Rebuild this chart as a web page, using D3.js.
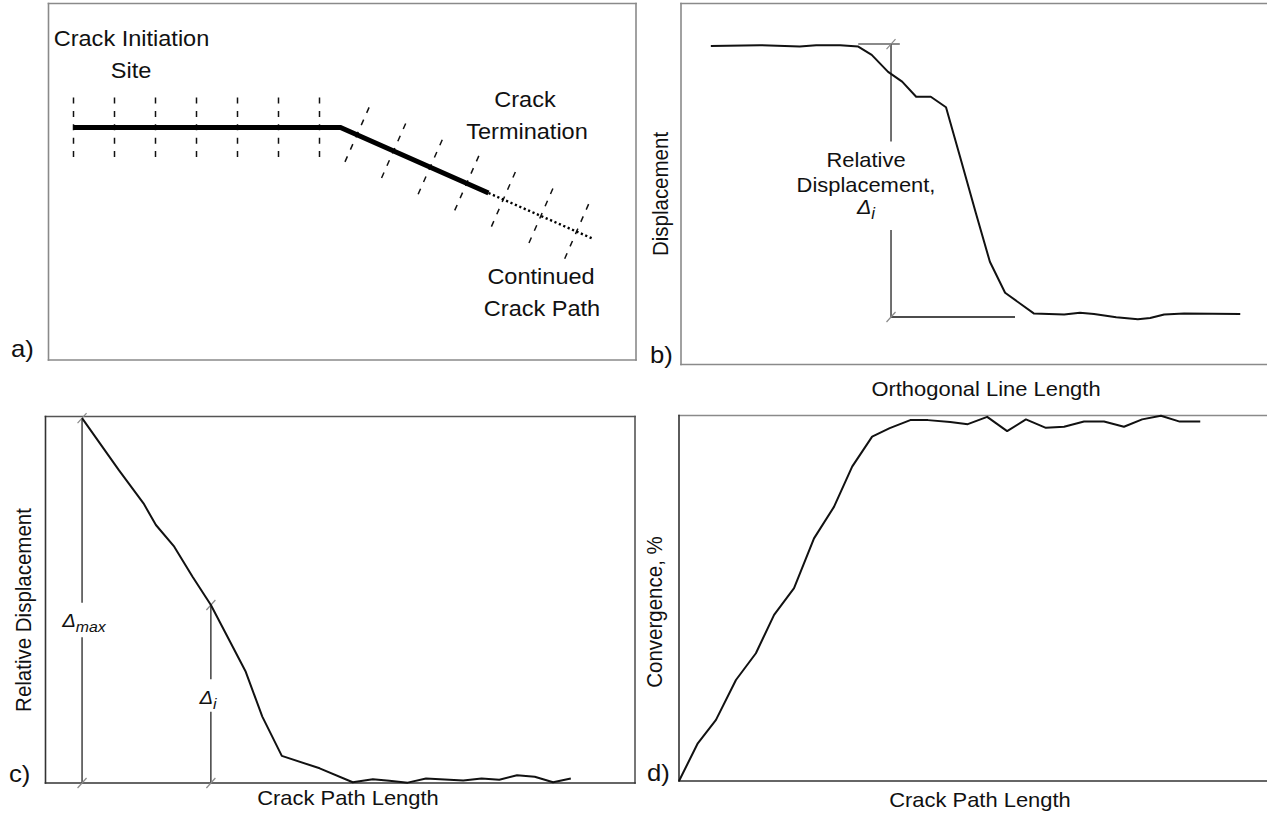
<!DOCTYPE html>
<html><head><meta charset="utf-8">
<script src="https://cdn.jsdelivr.net/npm/d3@7"></script>
<style>
body{margin:0;background:#fff}
svg{display:block}
text{font-family:"Liberation Sans",Arial,sans-serif;fill:#111}
</style>
</head><body>
<svg id="chart" width="1267" height="816"></svg>
<script>
// ---------- Panel a: schematic crack path ----------
const crackPathX = [0, 267, 415, 520];
const crackPathY = [0, 0, 65.5, 111.5];
const solidVertexCount = 3;
const orthoTickDist = [0, 41, 82, 123, 164, 205, 246, 285, 325, 365, 405, 445, 486, 525];
const panelALabels = ["Crack Initiation", "Site", "Crack", "Termination", "Continued", "Crack Path"];

// ---------- Panel b: displacement along orthogonal line ----------
const orthoLength  = [5.1, 13.5, 20.3, 23.1, 27.2, 30.3, 32.6, 35.4, 37.8, 40.2, 42.7, 45.3, 47.7, 50.4, 52.8, 55.4, 60.3, 65.5, 68.2, 70.6, 74.4, 78.1, 80.2, 82.6, 86.0, 95.6];
const displacement = [88.4, 88.6, 88.2, 88.6, 88.6, 88.2, 85.9, 81.2, 78.5, 74.3, 74.3, 71.4, 57.7, 42.1, 28.6, 20.0, 14.3, 14.0, 14.5, 14.1, 13.2, 12.7, 13.0, 14.0, 14.3, 14.1];
const deltaB = [35.9, 88.9, 13.3]; // x, top, bottom

// ---------- Panel c: relative displacement along crack ----------
const crackLengthC = [6.1, 12.3, 16.5, 18.6, 21.7, 24.8, 27.9, 30.4, 33.8, 36.6, 39.9, 46.3, 51.9, 55.3, 58.1, 61.2, 64.3, 70.6, 73.7, 76.7, 79.7, 82.7, 85.8, 88.8];
const relativeDisp = [99.4, 85.3, 76.2, 70.3, 64.4, 56.2, 48.5, 40.8, 30.3, 18.1, 7.4, 4.0, 0.2, 1.0, 0.6, 0.1, 1.2, 0.7, 1.2, 0.9, 2.1, 1.7, 0.2, 1.2];
const deltaMaxC = [6.1, 99.4];
const deltaIC = [27.9, 48.5];

// ---------- Panel d: convergence along crack ----------
const crackLengthD = [0, 3.2, 6.3, 9.7, 13.1, 16.2, 19.6, 23.0, 26.4, 29.5, 32.9, 35.9, 39.4, 42.4, 46.2, 49.2, 52.5, 55.9, 59.1, 62.5, 65.6, 69.0, 72.4, 75.8, 78.9, 82.1, 85.3, 88.8];
const convergence  = [0, 10.3, 16.7, 27.6, 34.9, 45.4, 52.7, 66.3, 74.9, 85.9, 94.1, 96.4, 98.6, 98.6, 98.1, 97.5, 99.5, 95.6, 98.8, 96.5, 96.8, 98.2, 98.2, 96.8, 98.8, 99.8, 98.2, 98.2];

const svg = d3.select("#chart");
const SX = 1.07;   // horizontal text stretch
const INK = "#111";

function txt(g, x, y, s, size, opts = {}) {
  return g.append("text")
    .attr("transform", `translate(${x},${y}) scale(${SX},1)` + (opts.rotate ? " rotate(-90)" : ""))
    .attr("font-size", size)
    .attr("text-anchor", opts.anchor || "middle")
    .text(s);
}
function deltaText(g, x, y, sub, size) {
  const t = g.append("text")
    .attr("transform", `translate(${x},${y}) scale(${SX},1)`)
    .attr("font-size", size).attr("font-style", "italic").attr("text-anchor", "middle");
  t.append("tspan").text("Δ");
  t.append("tspan").attr("font-size", size * 0.78).attr("dy", size * 0.26).text(sub);
}
function box(g, x0, y0, x1, y1, colors) {
  // colors: top, right, bottom, left
  const sides = [[x0, y0, x1, y0], [x1, y0, x1, y1], [x0, y1, x1, y1], [x0, y0, x0, y1]];
  sides.forEach((s, i) => {
    if (!colors[i]) return;
    g.append("line").attr("x1", s[0]).attr("y1", s[1]).attr("x2", s[2]).attr("y2", s[3])
      .attr("stroke", colors[i]).attr("stroke-width", 1.6).attr("stroke-linecap", "square");
  });
}
function slash(g, x, y) {
  g.append("line").attr("x1", x - 4.5).attr("y1", y + 5).attr("x2", x + 4.5).attr("y2", y - 5)
    .attr("stroke", "#8a8a8a").attr("stroke-width", 1.2);
}
function vline(g, x, y0, y1, color, w) {
  g.append("line").attr("x1", x).attr("x2", x).attr("y1", y0).attr("y2", y1)
    .attr("stroke", color || INK).attr("stroke-width", w || 1.2);
}
function hline(g, x0, x1, y, color, w) {
  g.append("line").attr("x1", x0).attr("x2", x1).attr("y1", y).attr("y2", y)
    .attr("stroke", color || INK).attr("stroke-width", w || 1.2);
}

// ================= Panel a =================
{
  const g = svg.append("g");
  const x = d3.scaleLinear().domain([-25, 564]).range([48.5, 637.5]);
  const y = d3.scaleLinear().domain([-123.5, 232.5]).range([4, 360]);
  box(g, 48.5, 3.5, 636, 360, ["#8a8a8a", "#8a8a8a", "#8a8a8a", "#8a8a8a"]);

  const pts = crackPathX.map((v, i) => [v, crackPathY[i]]);
  const line = d3.line().x(d => x(d[0])).y(d => y(d[1]));

  // orthogonal dashed lines
  const segs = [];
  let acc = 0;
  for (let i = 0; i < pts.length - 1; i++) {
    const dx = pts[i + 1][0] - pts[i][0], dy = pts[i + 1][1] - pts[i][1];
    const len = Math.hypot(dx, dy);
    segs.push({ p: pts[i], ux: dx / len, uy: dy / len, start: acc, len });
    acc += len;
  }
  const half = 30;
  orthoTickDist.forEach(dd => {
    const s = segs.find(s => dd >= s.start && dd <= s.start + s.len + 1e-6) || segs[segs.length - 1];
    const t = dd - s.start;
    const px = s.p[0] + s.ux * t, py = s.p[1] + s.uy * t;
    const nx = s.uy, ny = -s.ux; // points "up"
    g.append("line")
      .attr("x1", x(px + nx * half)).attr("y1", y(py + ny * half))
      .attr("x2", x(px - nx * half)).attr("y2", y(py - ny * half))
      .attr("stroke", INK).attr("stroke-width", 1.5).attr("stroke-dasharray", "6,7.4");
  });

  g.append("path").attr("d", line(pts.slice(0, solidVertexCount)))
    .attr("fill", "none").attr("stroke", "#000").attr("stroke-width", 5).attr("stroke-linejoin", "miter");
  g.append("path").attr("d", line(pts.slice(solidVertexCount - 1)))
    .attr("fill", "none").attr("stroke", "#000").attr("stroke-width", 2.4).attr("stroke-dasharray", "2.2,2.6");

  const fs = 22;
  txt(g, 131.5, 46, panelALabels[0], fs);
  txt(g, 131, 78, panelALabels[1], fs);
  txt(g, 525, 107, panelALabels[2], fs);
  txt(g, 527, 139, panelALabels[3], fs);
  txt(g, 541, 284, panelALabels[4], fs);
  txt(g, 542, 316, panelALabels[5], fs);
  txt(g, 11, 357, "a)", 24, { anchor: "start" });
}

// ================= Panel b =================
{
  const g = svg.append("g");
  const x = d3.scaleLinear().domain([0, 100]).range([681, 1266]);
  const y = d3.scaleLinear().domain([0, 100]).range([365, 4]);
  box(g, 681, 3.5, 1266.5, 364.5, ["#8a8a8a", null, "#8a8a8a", "#8a8a8a"]);

  // annotation
  const ax = x(deltaB[0]), yt = y(deltaB[1]), yb = y(deltaB[2]);
  hline(g, x(30.3), x(37.4), yt, "#8a8a8a", 2);
  hline(g, ax, x(57.1), yb, INK, 1.3);
  vline(g, ax, yt, y(61.9), INK, 1.2);
  vline(g, ax, y(37.4), yb, INK, 1.2);
  slash(g, ax, yt);
  slash(g, ax, yb);

  const line = d3.line().x((d, i) => x(orthoLength[i])).y(d => y(d));
  g.append("path").attr("d", line(displacement))
    .attr("fill", "none").attr("stroke", INK).attr("stroke-width", 2).attr("stroke-linejoin", "round");

  txt(g, 866, 167, "Relative", 20.5);
  txt(g, 866, 191.5, "Displacement,", 20.5);
  deltaText(g, 866, 214, "i", 20);

  txt(g, 668, 194, "Displacement", 20.5, { rotate: true });
  txt(g, 986, 396, "Orthogonal Line Length", 20.5);
  txt(g, 650, 363, "b)", 24, { anchor: "start" });
}

// ================= Panel c =================
{
  const g = svg.append("g");
  const x = d3.scaleLinear().domain([0, 100]).range([46, 637]);
  const y = d3.scaleLinear().domain([0, 100]).range([783, 416]);
  box(g, 45.5, 416.5, 635, 783, ["#555", "#555", "#333", "#333"]);

  // Δmax
  const mx = x(deltaMaxC[0]);
  vline(g, mx, y(deltaMaxC[1]), y(49.1));
  vline(g, mx, y(39.7), y(0));
  slash(g, mx, y(deltaMaxC[1]));
  slash(g, mx, y(0));
  deltaText(g, 84, 627, "max", 19);
  // Δi
  const ix = x(deltaIC[0]);
  vline(g, ix, y(deltaIC[1]), y(28.3));
  vline(g, ix, y(19.4), y(0));
  slash(g, ix, y(deltaIC[1]));
  slash(g, ix, y(0));
  deltaText(g, 208, 704, "i", 19);

  const line = d3.line().x((d, i) => x(crackLengthC[i])).y(d => y(d));
  g.append("path").attr("d", line(relativeDisp))
    .attr("fill", "none").attr("stroke", INK).attr("stroke-width", 2).attr("stroke-linejoin", "round");

  txt(g, 31, 610, "Relative Displacement", 20.5, { rotate: true });
  txt(g, 348, 805, "Crack Path Length", 20.5);
  txt(g, 9, 782, "c)", 24, { anchor: "start" });
}

// ================= Panel d =================
{
  const g = svg.append("g");
  const x = d3.scaleLinear().domain([0, 100]).range([679, 1266]);
  const y = d3.scaleLinear().domain([0, 100]).range([781, 415]);
  box(g, 679, 415.5, 1266.5, 781, ["#8a8a8a", null, "#333", "#333"]);

  const line = d3.line().x((d, i) => x(crackLengthD[i])).y(d => y(d));
  g.append("path").attr("d", line(convergence))
    .attr("fill", "none").attr("stroke", INK).attr("stroke-width", 2).attr("stroke-linejoin", "round");

  txt(g, 662, 612, "Convergence, %", 20.5, { rotate: true });
  txt(g, 980, 807, "Crack Path Length", 20.5);
  txt(g, 647, 781, "d)", 24, { anchor: "start" });
}
</script>
</body></html>
